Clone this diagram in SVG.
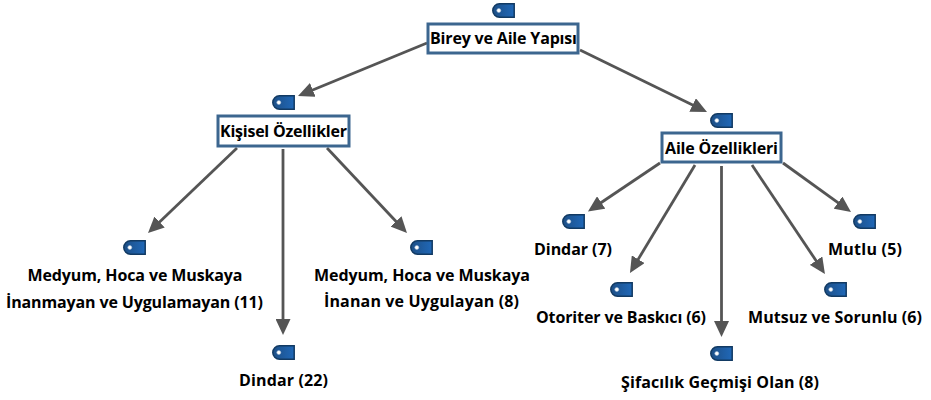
<svg xmlns="http://www.w3.org/2000/svg" width="931" height="400" viewBox="0 0 931 400">
<style>
text{font-family:"Open Sans","Noto Sans","Liberation Sans",sans-serif;font-weight:700;font-size:16px;fill:#000;text-anchor:middle}
.box{fill:#fff;stroke:#3c668f;stroke-width:3}
.c{fill:none;stroke:#555;stroke-width:2.8;marker-end:url(#a)}
.tag{fill:url(#g);stroke:#123a63;stroke-width:1.5}
.dot{fill:#fff;stroke:#9db7d2;stroke-width:.6}
</style>
<defs>
<linearGradient id="g" x1="0" x2="1" y1="0" y2="0"><stop offset="0" stop-color="#1d4f86"/><stop offset="1" stop-color="#2068b8"/></linearGradient>
<marker id="a" markerUnits="userSpaceOnUse" markerWidth="17" markerHeight="15" refX="8" refY="7.5" orient="auto"><path d="M0 0L16 7.500L0 15Z" fill="#555"/></marker>
<g id="t"><path class="tag" d="M7.5 .8H22.2V14.2H7.5A6.7 6.7 0 0 1 7.5 .8Z"/><circle class="dot" cx="6.8" cy="7.5" r="2"/></g>
</defs>
<rect width="931" height="400" fill="#fff"/>
<g id="connectors">
<path class="c" d="M427 43L305.4 93"/>
<path class="c" d="M580 50L699.8 108.5"/>
<path class="c" d="M237 148L153.8 227.5"/>
<path class="c" d="M283 149V327"/>
<path class="c" d="M327 148L401.5 227.2"/>
<path class="c" d="M660 163L594.6 207"/>
<path class="c" d="M695 165L634.1 266.1"/>
<path class="c" d="M721.5 166V329"/>
<path class="c" d="M752 165L820.5 267.3"/>
<path class="c" d="M783 163L844.5 207.3"/>
</g>
<g id="n1"><use href="#t" x="492" y="3"/><rect class="box" x="428" y="24" width="150" height="29"/><text x="503.500" y="44" textLength="147">Birey ve Aile Yapısı</text></g>
<g id="n2"><use href="#t" x="272" y="95"/><rect class="box" x="218" y="116" width="131" height="30"/><text x="283.500" y="137" textLength="127">Kişisel Özellikler</text></g>
<g id="n3"><use href="#t" x="710" y="113"/><rect class="box" x="662" y="133" width="119" height="29"/><text x="721.500" y="154" textLength="113">Aile Özellikleri</text></g>
<g id="n4"><use href="#t" x="123" y="240"/><text x="135" y="281" textLength="215">Medyum, Hoca ve Muskaya</text><text x="134.500" y="308" textLength="257">İnanmayan ve Uygulamayan (11)</text></g>
<g id="n5"><use href="#t" x="272" y="345"/><text x="283.500" y="386" textLength="89">Dindar (22)</text></g>
<g id="n6"><use href="#t" x="410" y="240"/><text x="422" y="281" textLength="216">Medyum, Hoca ve Muskaya</text><text x="421.500" y="307" textLength="195">İnanan ve Uygulayan (8)</text></g>
<g id="n7"><use href="#t" x="562" y="214"/><text x="573" y="255" textLength="78">Dindar (7)</text></g>
<g id="n8"><use href="#t" x="610" y="282"/><text x="621" y="323" textLength="170">Otoriter ve Baskıcı (6)</text></g>
<g id="n9"><use href="#t" x="710" y="346"/><text x="720" y="388" textLength="198">Şifacılık Geçmişi Olan (8)</text></g>
<g id="n10"><use href="#t" x="824" y="282"/><text x="835" y="323" textLength="174">Mutsuz ve Sorunlu (6)</text></g>
<g id="n11"><use href="#t" x="853" y="214"/><text x="865" y="255" textLength="74">Mutlu (5)</text></g>
</svg>
